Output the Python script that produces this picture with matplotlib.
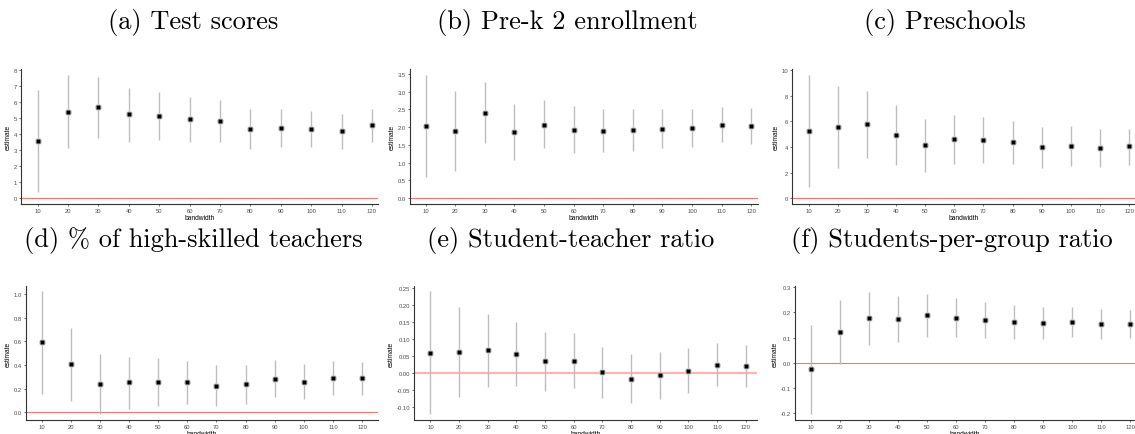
import numpy as np
import matplotlib.pyplot as plt
from matplotlib.ticker import FormatStrFormatter

plt.rcParams['font.family'] = ['Liberation Sans', 'DejaVu Sans']
plt.rcParams['axes.unicode_minus'] = False

# bandwidths (discrete x axis)
bandwidth = [10, 20, 30, 40, 50, 60, 70, 80, 90, 100, 110, 120]

# (a) Test scores
test_est = [3.57, 5.40, 5.68, 5.22, 5.13, 4.93, 4.82, 4.33, 4.37, 4.33, 4.19, 4.56]
test_lo = [0.37, 3.11, 3.77, 3.53, 3.60, 3.53, 3.49, 3.08, 3.19, 3.21, 3.09, 3.53]
test_hi = [6.77, 7.71, 7.59, 6.89, 6.64, 6.31, 6.11, 5.57, 5.53, 5.44, 5.26, 5.58]

# (b) Pre-k 2 enrollment
prek_est = [2.04, 1.90, 2.40, 1.86, 2.07, 1.93, 1.90, 1.93, 1.95, 1.98, 2.07, 2.03]
prek_lo = [0.59, 0.77, 1.55, 1.06, 1.40, 1.28, 1.30, 1.33, 1.40, 1.45, 1.57, 1.52]
prek_hi = [3.47, 3.02, 3.26, 2.65, 2.76, 2.59, 2.50, 2.51, 2.51, 2.51, 2.58, 2.54]

# (c) Preschools
presch_est = [5.25, 5.53, 5.77, 4.94, 4.13, 4.60, 4.57, 4.42, 4.00, 4.10, 3.95, 4.05]
presch_lo = [0.86, 2.34, 3.12, 2.60, 2.03, 2.65, 2.78, 2.65, 2.39, 2.55, 2.47, 2.60]
presch_hi = [9.64, 8.73, 8.39, 7.25, 6.18, 6.47, 6.34, 6.05, 5.56, 5.61, 5.38, 5.38]

# (d) % of high-skilled teachers
skill_est = [0.590, 0.404, 0.236, 0.253, 0.258, 0.253, 0.225, 0.236, 0.284, 0.258, 0.290, 0.287]
skill_lo = [0.157, 0.095, -0.017, 0.028, 0.056, 0.067, 0.050, 0.073, 0.132, 0.115, 0.149, 0.149]
skill_hi = [1.020, 0.710, 0.490, 0.470, 0.458, 0.435, 0.396, 0.400, 0.438, 0.410, 0.430, 0.421]

# (e) Student-teacher ratio
stratio_est = [0.059, 0.063, 0.067, 0.056, 0.035, 0.036, 0.002, -0.016, -0.006, 0.007, 0.025, 0.021]
stratio_lo = [-0.121, -0.069, -0.042, -0.039, -0.052, -0.044, -0.073, -0.088, -0.075, -0.059, -0.037, -0.040]
stratio_hi = [0.240, 0.193, 0.175, 0.151, 0.122, 0.117, 0.076, 0.056, 0.062, 0.073, 0.088, 0.082]

# (f) Students-per-group ratio
group_est = [-0.026, 0.121, 0.176, 0.174, 0.188, 0.178, 0.170, 0.163, 0.158, 0.163, 0.155, 0.155]
group_lo = [-0.203, -0.005, 0.070, 0.082, 0.104, 0.101, 0.099, 0.096, 0.093, 0.101, 0.095, 0.097]
group_hi = [0.150, 0.247, 0.280, 0.266, 0.271, 0.255, 0.239, 0.230, 0.220, 0.222, 0.212, 0.209]

titles = ["(a) Test scores", "(b) Pre-k 2 enrollment", "(c) Preschools",
          "(d) % of high-skilled teachers", "(e) Student-teacher ratio",
          "(f) Students-per-group ratio"]

W, H = 1135, 435

# pixel boxes: left, right, top, bottom ; axis limits ; ticks ; tick format ; zero line style
panels = [
    (test_est, test_lo, test_hi, (21, 378, 70, 205), (4.5, 122), (-0.375, 8.06),
     np.arange(0, 9, 1), '%d', ('#F8766D', 0.8)),
    (prek_est, prek_lo, prek_hi, (410, 758, 70, 205), (4.7, 122.3), (-0.17, 3.64),
     np.arange(0, 3.6, 0.5), '%.1f', ('#F8766D', 0.8)),
    (presch_est, presch_lo, presch_hi, (792, 1135, 70, 205), (4.3, 122), (-0.44, 10.07),
     np.arange(0, 11, 2), '%d', ('#F8766D', 0.8)),
    (skill_est, skill_lo, skill_hi, (26, 378, 287, 421), (4.6, 125.5), (-0.065, 1.066),
     np.arange(0, 1.01, 0.2), '%.1f', ('#F8766D', 0.8)),
    (stratio_est, stratio_lo, stratio_hi, (414, 757, 287, 421), (4.3, 123.9), (-0.138, 0.256),
     np.arange(-0.10, 0.26, 0.05), '%.2f', ('#FFB3B3', 1.6)),
    (group_est, group_lo, group_hi, (795, 1135, 287, 421), (4.5, 121.7), (-0.226, 0.304),
     np.arange(-0.2, 0.31, 0.1), '%.1f', ('#F8766D', 0.8)),
]

fig = plt.figure(figsize=(W / 100, H / 100), dpi=100)

for est, lo, hi, box, xl, yl, yt, fmt, zl in panels:
    l, r, t, b = box
    ax = fig.add_axes([l / W, 1 - b / H, (r - l) / W, (b - t) / H])
    ax.axhline(0, color=zl[0], lw=zl[1], zorder=1)
    ax.vlines(bandwidth, lo, hi, color='#bdbdbd', lw=1.0, zorder=2)
    ax.plot(bandwidth, est, 'o', ms=5.0, color='#cccccc', mec='none', zorder=3)
    ax.plot(bandwidth, est, 's', ms=2.4, color='black', mec='none', zorder=4)
    ax.set_xlim(*xl)
    ax.set_ylim(*yl)
    ax.set_xticks(bandwidth)
    ax.set_yticks(yt)
    ax.yaxis.set_major_formatter(FormatStrFormatter(fmt))
    for s in ['top', 'right']:
        ax.spines[s].set_visible(False)
    for s in ['left', 'bottom']:
        ax.spines[s].set_color('#333333')
        ax.spines[s].set_linewidth(0.8)
    ax.tick_params(length=1.5, width=0.5, color='#333333', pad=1.5,
                   labelsize=4.2, labelcolor='#4d4d4d')
    ax.set_xlabel('bandwidth', fontsize=4.8, labelpad=0.5)
    ax.set_ylabel('estimate', fontsize=4.8, labelpad=1)

title_pos = [(193, 23), (567, 23), (945, 23), (193, 241), (571, 241), (952, 241)]
for txt, (x, y) in zip(titles, title_pos):
    fig.text(x / W, 1 - y / H, txt, family='cmr10', fontsize=19,
             ha='center', va='center')

fig.savefig('out.png', dpi=100)
